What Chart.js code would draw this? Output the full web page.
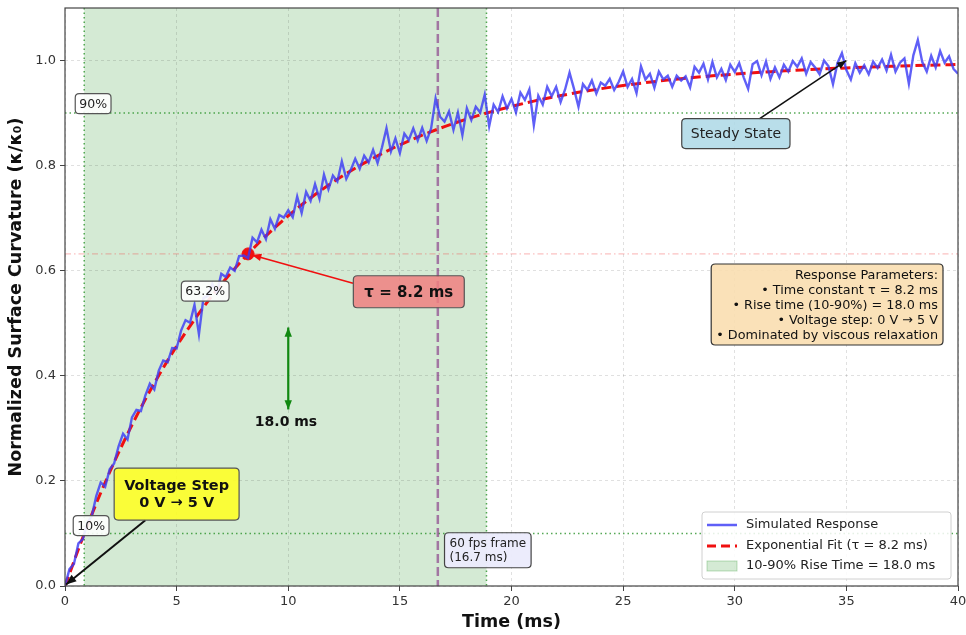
<!DOCTYPE html>
<html>
<head>
<meta charset="utf-8">
<script src="https://cdn.jsdelivr.net/npm/chart.js@4.4.0/dist/chart.umd.min.js"></script>
<style>
  html, body { margin: 0; padding: 0; background: #fff; }
</style>
</head>
<body>
<canvas id="myChart" width="966" height="635"></canvas>
<script>
// time axis of the simulated trace: 0..40 ms every 0.2 ms
var simStart = 0;
var simStep = 0.2;
var simResponse = [
  0.000,0.032,0.042,0.081,0.089,0.121,0.133,0.171,0.197,0.189,
  0.222,0.233,0.266,0.290,0.279,0.321,0.335,0.333,0.363,0.385,
  0.374,0.410,0.429,0.426,0.453,0.452,0.486,0.506,0.501,0.535,
  0.479,0.548,0.552,0.575,0.558,0.594,0.588,0.606,0.600,0.628,
  0.629,0.624,0.663,0.654,0.678,0.660,0.698,0.680,0.706,0.701,
  0.715,0.702,0.741,0.710,0.750,0.733,0.765,0.737,0.783,0.755,
  0.781,0.770,0.808,0.775,0.792,0.813,0.794,0.819,0.806,0.830,
  0.805,0.835,0.871,0.827,0.852,0.824,0.861,0.849,0.871,0.848,
  0.872,0.847,0.871,0.928,0.893,0.884,0.903,0.868,0.901,0.858,
  0.909,0.887,0.912,0.901,0.935,0.875,0.916,0.902,0.932,0.909,
  0.927,0.901,0.939,0.925,0.945,0.877,0.933,0.916,0.950,0.932,
  0.950,0.921,0.945,0.977,0.946,0.912,0.955,0.944,0.962,0.937,
  0.958,0.952,0.965,0.944,0.959,0.979,0.950,0.965,0.938,0.989,
  0.964,0.975,0.948,0.979,0.964,0.971,0.950,0.971,0.962,0.970,
  0.949,0.988,0.977,0.994,0.964,0.997,0.968,0.984,0.963,0.992,
  0.978,0.995,0.968,0.946,0.993,0.999,0.972,0.998,0.965,0.987,
  0.968,0.992,0.979,0.999,0.988,1.004,0.975,0.997,0.987,0.974,
  1.000,0.989,0.955,0.995,1.014,0.982,0.964,0.995,0.977,0.991,
  0.974,0.998,0.986,1.002,0.981,1.011,0.979,0.996,1.004,0.956,
  1.010,1.039,0.997,0.979,1.009,0.987,1.018,0.996,1.008,0.984,
  0.975
];

// exponential fit, read every 1 ms
var fitTimes = [0,1,2,3,4,5,6,7,8,9,10,11,12,13,14,15,16,17,18,19,20,
                21,22,23,24,25,26,27,28,29,30,31,32,33,34,35,36,37,38,39,40];
var fitValues = [0,0.1148,0.2165,0.3064,0.3860,0.4565,0.5189,0.5741,0.6230,0.6663,
                 0.7046,0.7385,0.7685,0.7951,0.8186,0.8395,0.8579,0.8742,0.8887,0.9014,
                 0.9127,0.9228,0.9316,0.9395,0.9464,0.9526,0.9580,0.9628,0.9671,0.9709,
                 0.9742,0.9772,0.9798,0.9821,0.9842,0.9860,0.9876,0.9890,0.9903,0.9914,0.9924];

var tauPoint = [8.2, 0.632];
var riseStart = 0.86;   // 10% crossing
var riseEnd = 18.88;    // 90% crossing
var frameTime = 16.7;   // 60 fps frame
var levelLines = [0.1, 0.9];
var tauLevel = 0.632;

var xTicks = [0, 5, 10, 15, 20, 25, 30, 35, 40];
var yTicks = [0.0, 0.2, 0.4, 0.6, 0.8, 1.0];

var paramLines = [
  'Response Parameters:',
  '\u2022 Time constant \u03c4 = 8.2 ms',
  '\u2022 Rise time (10-90%) = 18.0 ms',
  '\u2022 Voltage step: 0 V \u2192 5 V',
  '\u2022 Dominated by viscous relaxation'
];
var legendLabels = ['Simulated Response', 'Exponential Fit (\u03c4 = 8.2 ms)', '10-90% Rise Time = 18.0 ms'];

var FONT = "'DejaVu Sans', sans-serif";
var BLUE = 'rgba(60,60,245,0.82)';
var RED = '#f01010';
var SHADE = 'rgba(40,150,40,0.2)';

var simData = simResponse.map((v, i) => ({x: simStart + i * simStep, y: v}));
var fitData = fitValues.map((v, i) => ({x: fitTimes[i], y: v}));

function roundRect(ctx, x, y, w, h, r) {
  ctx.beginPath();
  ctx.moveTo(x + r, y);
  ctx.lineTo(x + w - r, y);
  ctx.quadraticCurveTo(x + w, y, x + w, y + r);
  ctx.lineTo(x + w, y + h - r);
  ctx.quadraticCurveTo(x + w, y + h, x + w - r, y + h);
  ctx.lineTo(x + r, y + h);
  ctx.quadraticCurveTo(x, y + h, x, y + h - r);
  ctx.lineTo(x, y + r);
  ctx.quadraticCurveTo(x, y, x + r, y);
  ctx.closePath();
}

// text in a rounded box; (x, y) is the anchor, y is the vertical centre
function textBox(ctx, lines, o) {
  ctx.save();
  ctx.font = (o.bold ? 'bold ' : '') + o.size + 'px ' + FONT;
  var w = Math.max.apply(null, lines.map(l => ctx.measureText(l).width));
  var h = lines.length * o.lineH;
  var left = o.align === 'center' ? o.x - w / 2 - o.padX
           : o.align === 'left' ? o.x : o.x - w - 2 * o.padX;
  var top = o.y - h / 2 - o.padY;
  roundRect(ctx, left, top, w + 2 * o.padX, h + 2 * o.padY, 4);
  ctx.fillStyle = o.fill;
  ctx.fill();
  ctx.lineWidth = 1.2;
  ctx.strokeStyle = o.stroke || '#444';
  ctx.stroke();
  ctx.fillStyle = o.color || '#222';
  ctx.textBaseline = 'middle';
  ctx.textAlign = o.align;
  var tx = o.align === 'center' ? o.x : o.align === 'left' ? left + o.padX : o.x - o.padX;
  lines.forEach((l, i) => ctx.fillText(l, tx, top + o.padY + o.lineH * (i + 0.5) + 1));
  ctx.restore();
}

function arrowHead(ctx, x1, y1, x2, y2, size) {
  var a = Math.atan2(y2 - y1, x2 - x1);
  ctx.beginPath();
  ctx.moveTo(x2, y2);
  ctx.lineTo(x2 - size * Math.cos(a - 0.38), y2 - size * Math.sin(a - 0.38));
  ctx.lineTo(x2 - size * Math.cos(a + 0.38), y2 - size * Math.sin(a + 0.38));
  ctx.closePath();
  ctx.fill();
}

function arrow(ctx, x1, y1, x2, y2, color, width, size, both) {
  ctx.save();
  ctx.strokeStyle = color;
  ctx.fillStyle = color;
  ctx.lineWidth = width;
  ctx.beginPath();
  ctx.moveTo(x1, y1);
  ctx.lineTo(x2, y2);
  ctx.stroke();
  arrowHead(ctx, x1, y1, x2, y2, size);
  if (both) arrowHead(ctx, x2, y2, x1, y1, size);
  ctx.restore();
}

var annotations = {
  id: 'annotations',
  beforeDraw(chart) {
    var ctx = chart.ctx, a = chart.chartArea;
    var xs = chart.scales.x;
    ctx.save();
    ctx.fillStyle = SHADE;
    ctx.fillRect(xs.getPixelForValue(riseStart), a.top,
                 xs.getPixelForValue(riseEnd) - xs.getPixelForValue(riseStart), a.bottom - a.top);
    ctx.restore();
  },
  beforeDatasetsDraw(chart) {
    var ctx = chart.ctx, a = chart.chartArea;
    var xs = chart.scales.x, ys = chart.scales.y;
    ctx.save();
    ctx.beginPath();
    ctx.rect(a.left, a.top, a.right - a.left, a.bottom - a.top);
    ctx.clip();
    // 10% / 90% guides
    ctx.strokeStyle = 'rgba(30,140,30,0.75)';
    ctx.lineWidth = 1.5;
    ctx.setLineDash([1.5, 3]);
    levelLines.forEach(v => {
      var y = ys.getPixelForValue(v);
      ctx.beginPath(); ctx.moveTo(a.left, y); ctx.lineTo(a.right, y); ctx.stroke();
    });
    [riseStart, riseEnd].forEach(v => {
      var x = xs.getPixelForValue(v);
      ctx.beginPath(); ctx.moveTo(x, a.top); ctx.lineTo(x, a.bottom); ctx.stroke();
    });
    // 63.2% level
    ctx.strokeStyle = 'rgba(240,60,60,0.4)';
    ctx.lineWidth = 1;
    ctx.setLineDash([6, 3, 1.5, 3]);
    var yt = ys.getPixelForValue(tauLevel);
    ctx.beginPath(); ctx.moveTo(a.left, yt); ctx.lineTo(a.right, yt); ctx.stroke();
    // 60 fps frame
    ctx.strokeStyle = 'rgba(128,40,128,0.6)';
    ctx.lineWidth = 2.5;
    ctx.setLineDash([9, 4]);
    var xf = xs.getPixelForValue(frameTime);
    ctx.beginPath(); ctx.moveTo(xf, a.top); ctx.lineTo(xf, a.bottom); ctx.stroke();
    ctx.restore();
  },
  afterDatasetsDraw(chart) {
    var ctx = chart.ctx, a = chart.chartArea;
    var xs = chart.scales.x, ys = chart.scales.y;
    var px = v => xs.getPixelForValue(v), py = v => ys.getPixelForValue(v);

    // level labels
    var small = {size: 12.5, lineH: 15, padX: 4, padY: 2.5, fill: 'rgba(255,255,255,0.9)', stroke: '#555', align: 'center'};
    textBox(ctx, ['90%'], Object.assign({}, small, {x: px(1.26), y: py(0.918)}));
    textBox(ctx, ['10%'], Object.assign({}, small, {x: px(1.17), y: py(0.115)}));
    textBox(ctx, ['63.2%'], Object.assign({}, small, {x: px(6.28), y: py(0.561)}));

    // tau annotation
    arrow(ctx, px(12.9), py(0.576), px(tauPoint[0]) + 4, py(tauPoint[1]) + 1, RED, 1.6, 10);
    textBox(ctx, ['\u03c4 = 8.2 ms'], {x: px(15.4), y: py(0.56), size: 15, bold: true, lineH: 18,
      padX: 11, padY: 7, fill: 'rgba(240,128,128,0.85)', stroke: '#555', align: 'center', color: '#111'});

    // voltage step
    arrow(ctx, px(3.6), py(0.125), px(0.05), py(0.003), '#111', 2, 11);
    textBox(ctx, ['Voltage Step', '0 V \u2192 5 V'], {x: px(5.0), y: py(0.175), size: 14.5, bold: true, lineH: 17,
      padX: 10, padY: 9, fill: 'rgba(255,255,40,0.9)', stroke: '#555', align: 'center', color: '#111'});

    // rise time arrow
    arrow(ctx, px(10), py(0.492), px(10), py(0.336), '#118811', 2.2, 10, true);
    ctx.save();
    ctx.font = 'bold 14px ' + FONT;
    ctx.fillStyle = '#111';
    ctx.textAlign = 'center';
    ctx.textBaseline = 'middle';
    ctx.fillText('18.0 ms', px(9.9), py(0.311));
    ctx.restore();

    // steady state
    arrow(ctx, px(31.1), py(0.889), px(35), py(1.0), '#111', 1.6, 10);
    textBox(ctx, ['Steady State'], {x: px(30.05), y: py(0.861), size: 14, lineH: 17,
      padX: 9, padY: 6.5, fill: 'rgba(173,216,230,0.85)', stroke: '#444', align: 'center', color: '#222'});

    // 60 fps frame
    textBox(ctx, ['60 fps frame', '(16.7 ms)'], {x: px(17.0), y: py(0.068), size: 12, lineH: 14,
      padX: 5, padY: 3.5, fill: 'rgba(235,235,252,0.95)', stroke: '#444', align: 'left', color: '#222'});

    // parameters
    textBox(ctx, paramLines, {x: a.right - 15, y: a.top + 296.5, size: 12.8, lineH: 15,
      padX: 5, padY: 3, fill: 'rgba(250,222,176,0.9)', stroke: '#333', align: 'right', color: '#111'});

    // legend
    var lw = 249, lh = 67, lx = a.right - 7 - lw, ly = a.bottom - 7 - lh;
    ctx.save();
    roundRect(ctx, lx, ly, lw, lh, 3);
    ctx.fillStyle = 'rgba(255,255,255,0.85)';
    ctx.fill();
    ctx.strokeStyle = '#d0d0d0';
    ctx.lineWidth = 1;
    ctx.stroke();
    ctx.font = '13px ' + FONT;
    ctx.fillStyle = '#222';
    ctx.textBaseline = 'middle';
    var rows = [ly + 13, ly + 34, ly + 54];
    ctx.lineWidth = 2.5;
    ctx.strokeStyle = BLUE;
    ctx.beginPath(); ctx.moveTo(lx + 5, rows[0]); ctx.lineTo(lx + 35, rows[0]); ctx.stroke();
    ctx.strokeStyle = RED;
    ctx.lineWidth = 3;
    ctx.setLineDash([9, 5]);
    ctx.beginPath(); ctx.moveTo(lx + 5, rows[1]); ctx.lineTo(lx + 35, rows[1]); ctx.stroke();
    ctx.setLineDash([]);
    ctx.fillStyle = SHADE;
    ctx.fillRect(lx + 5, rows[2] - 5, 30, 10);
    ctx.strokeStyle = 'rgba(40,150,40,0.3)';
    ctx.lineWidth = 1;
    ctx.strokeRect(lx + 5, rows[2] - 5, 30, 10);
    ctx.fillStyle = '#222';
    legendLabels.forEach((t, i) => ctx.fillText(t, lx + 44, rows[i]));
    ctx.restore();

    // frame
    ctx.save();
    ctx.strokeStyle = '#444';
    ctx.lineWidth = 1.2;
    ctx.strokeRect(a.left, a.top, a.right - a.left, a.bottom - a.top);
    ctx.restore();
  }
};

var config = {
  type: 'line',
  data: {
    datasets: [
      {
        label: 'Simulated Response',
        data: simData,
        borderColor: BLUE,
        borderWidth: 2.4,
        pointRadius: 0,
        tension: 0,
        fill: false
      },
      {
        label: 'Exponential Fit (\u03c4 = 8.2 ms)',
        data: fitData,
        borderColor: RED,
        borderWidth: 3,
        borderDash: [10, 5],
        pointRadius: 0,
        cubicInterpolationMode: 'monotone',
        fill: false
      },
      {
        label: 'tau',
        data: [{x: tauPoint[0], y: tauPoint[1]}],
        showLine: false,
        pointRadius: 6,
        pointBackgroundColor: RED,
        pointBorderColor: RED
      }
    ]
  },
  options: {
    responsive: false,
    animation: false,
    devicePixelRatio: 1,
    layout: { padding: { top: 8, right: 8, left: 0, bottom: 0 } },
    plugins: {
      legend: { display: false },
      tooltip: { enabled: false }
    },
    scales: {
      x: {
        type: 'linear',
        min: 0,
        max: 40,
        afterBuildTicks: s => { s.ticks = xTicks.map(v => ({value: v})); },
        afterFit: s => { s.height = 49; s.paddingLeft = 0; s.paddingRight = 0; },
        ticks: { font: { family: FONT, size: 13 }, color: '#333', padding: 3, maxRotation: 0 },
        grid: { color: 'rgba(0,0,0,0.12)', tickLength: 5, tickColor: '#444', tickWidth: 1, tickBorderDash: [] },
        border: { display: false, dash: [3, 3] },
        title: { display: true, text: 'Time (ms)', font: { family: FONT, size: 17.5, weight: 'bold' }, color: '#111', padding: { top: 0, bottom: 2 } }
      },
      y: {
        min: 0,
        max: 1.1,
        afterBuildTicks: s => { s.ticks = yTicks.map(v => ({value: v})); },
        afterFit: s => { s.width = 65; s.paddingTop = 0; s.paddingBottom = 0; },
        ticks: { font: { family: FONT, size: 13 }, color: '#333', padding: 4, callback: v => v.toFixed(1) },
        grid: { color: 'rgba(0,0,0,0.12)', tickLength: 5, tickColor: '#444', tickWidth: 1, tickBorderDash: [] },
        border: { display: false, dash: [3, 3] },
        title: { display: true, text: 'Normalized Surface Curvature (\u03ba/\u03ba\u2080)', font: { family: FONT, size: 17.5, weight: 'bold' }, color: '#111', padding: { top: 6, bottom: 0 } }
      }
    }
  },
  plugins: [annotations]
};

var myChart = new Chart(document.getElementById('myChart'), config);
</script>
</body>
</html>
